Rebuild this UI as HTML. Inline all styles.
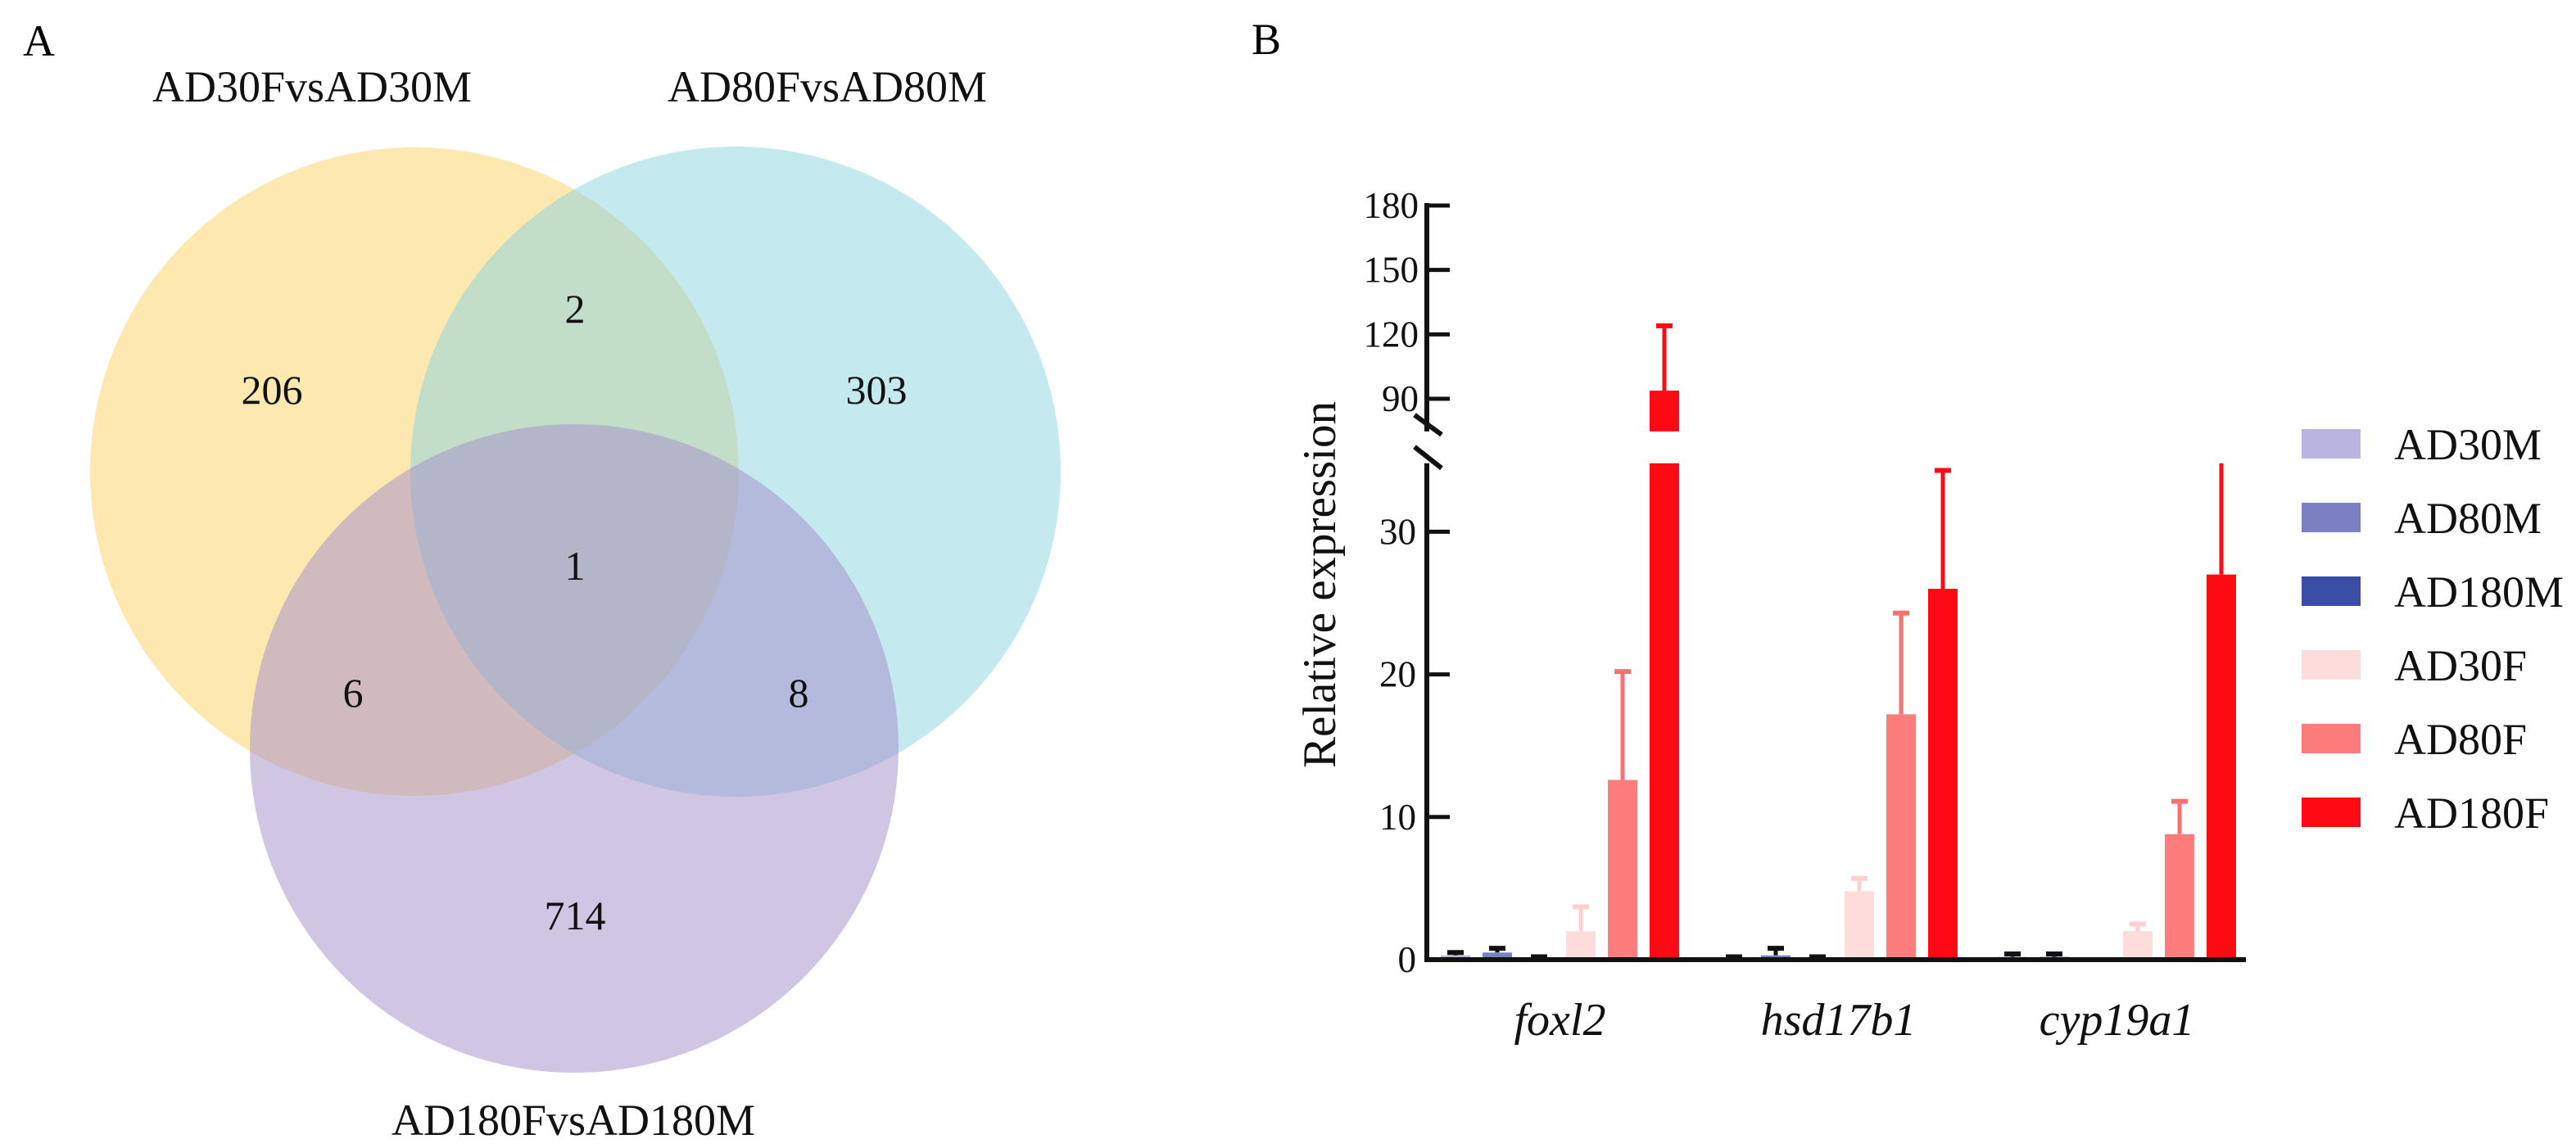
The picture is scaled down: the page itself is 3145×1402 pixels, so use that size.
<!DOCTYPE html>
<html><head><meta charset="utf-8"><style>
html,body{margin:0;padding:0;background:#fff;width:3145px;height:1402px;overflow:hidden}
svg{display:block;font-family:"Liberation Serif",serif}
</style></head><body>
<svg id="fig" width="3145" height="1402" viewBox="0 0 3145 1402">
<g>
<text x="28" y="68" font-size="54">A</text>
<circle cx="506" cy="576" r="396" fill="rgb(251,211,97)" fill-opacity="0.5"/>
<circle cx="898" cy="576" r="397" fill="rgb(137,211,223)" fill-opacity="0.5"/>
<circle cx="701" cy="914" r="396" fill="rgb(163,139,201)" fill-opacity="0.5"/>
<g font-size="54" text-anchor="middle" fill="#111">
<text x="381" y="124">AD30FvsAD30M</text>
<text x="1010" y="124">AD80FvsAD80M</text>
<text x="700" y="1386">AD180FvsAD180M</text>
</g>
<g font-size="50" text-anchor="middle" fill="#111">
<text x="332" y="493">206</text>
<text x="702" y="394">2</text>
<text x="1070" y="493">303</text>
<text x="702" y="708">1</text>
<text x="431" y="863">6</text>
<text x="975" y="863">8</text>
<text x="702" y="1135">714</text>
</g>
</g>
<g id="chart">
<text x="1528" y="66" font-size="54">B</text>
</g>
</svg>
<script>
const genes = ["foxl2","hsd17b1","cyp19a1"];
const groups = ["AD30M","AD80M","AD180M","AD30F","AD80F","AD180F"];
const means = [[0.3,0.5,0.1,2.0,12.6,93.8],[0.1,0.3,0.1,4.8,17.2,26.0],[0.2,0.2,0,2.0,8.8,27.0]];
const errTops = [[0.5,0.8,0.2,3.7,20.2,124],[0.2,0.8,0.2,5.7,24.3,34.3],[0.4,0.4,0,2.5,11.1,36]];
const lowTicks = [0,10,20,30];
const highTicks = [90,120,150,180];
const colors = ["#b8b6e0","#7a80c2","#3a4ea6","#fddcdc","#fd7d7d","#fe0a14"];
const errColors = ["#111","#111","#111","#fdd0d0","#fd7070","#fe0a14"];

const NS="http://www.w3.org/2000/svg";
const chart=document.getElementById('chart');
const AX=1742, BASE=1172;
const LOW_MAX=34.8, LOW_TOP=BASE-34.8*17.42, HIGH_MIN=74.8, HIGH_TOP=251, HIGH_MAX=180;
const UPPX=(487-251)/90;
function yLow(v){return BASE-Math.min(v,LOW_MAX)*17.42;}
function yHigh(v){return 251+(HIGH_MAX-v)*UPPX;}
const HIGH_BOT=yHigh(HIGH_MIN);
function yOf(v){return v<=LOW_MAX?yLow(v):(v<HIGH_MIN?LOW_TOP:yHigh(v));}
function xOf(g,s){return 1777+g*340+s*51;}
const BW=36;
function mk(tag,attrs){const e=document.createElementNS(NS,tag);for(const k in attrs)e.setAttribute(k,attrs[k]);chart.appendChild(e);return e;}

for(let g=0;g<genes.length;g++){
  for(let s=0;s<groups.length;s++){
    const v=means[g][s], cx=xOf(g,s);
    const top=yOf(errTops[g][s]);
    const barTop=yOf(v);
    const eline=mk('line',{x1:cx,x2:cx,y1:barTop,y2:top,stroke:errColors[s],'stroke-width':5});
    
    
    if(errTops[g][s]<=LOW_MAX || errTops[g][s]>=HIGH_MIN){
      const cap=mk('line',{x1:cx-10,x2:cx+10,y1:top,y2:top,stroke:errColors[s],'stroke-width':6});
      
      
    }
    if(v>LOW_MAX){
      const r1=mk('rect',{x:cx-BW/2,y:LOW_TOP,width:BW,height:BASE-LOW_TOP,fill:colors[s]});
      
      
      const r2=mk('rect',{x:cx-BW/2,y:yHigh(v),width:BW,height:HIGH_BOT-yHigh(v),fill:colors[s]});
      
      
    } else {
      const r=mk('rect',{x:cx-BW/2,y:barTop,width:BW,height:BASE-barTop,fill:colors[s]});
      
      
    }
  }
  const t=mk('text',{x:xOf(g,2.5),y:1264,'font-size':56,'font-style':'italic','text-anchor':'middle',fill:'#111'});
  t.textContent=genes[g];
  
  
}
const xa=mk('line',{x1:AX-3,x2:2742,y1:BASE,y2:BASE,stroke:'#111','stroke-width':6});


const ya1=mk('line',{x1:AX,x2:AX,y1:BASE+3,y2:LOW_TOP,stroke:'#111','stroke-width':6});


const ya2=mk('line',{x1:AX,x2:AX,y1:HIGH_BOT,y2:HIGH_TOP-3,stroke:'#111','stroke-width':6});


const b1=mk('line',{x1:AX-15,x2:AX+18,y1:HIGH_BOT-20,y2:HIGH_BOT+4,stroke:'#111','stroke-width':6});


const b2=mk('line',{x1:AX-15,x2:AX+18,y1:LOW_TOP-20,y2:LOW_TOP+6,stroke:'#111','stroke-width':6});


for(const v of lowTicks){
  const y=yLow(v);
  const tk=mk('line',{x1:AX,x2:AX+28,y1:y,y2:y,stroke:'#111','stroke-width':5});
  
  
  const tl=mk('text',{x:AX-13,y:y+15,'font-size':45,'text-anchor':'end',fill:'#111'});
  tl.textContent=v;
  
  
}
for(const v of highTicks){
  const y=yHigh(v);
  const tk=mk('line',{x1:AX,x2:AX+28,y1:y,y2:y,stroke:'#111','stroke-width':5});
  
  
  const tl=mk('text',{x:AX-10,y:y+15,'font-size':45,'text-anchor':'end',fill:'#111'});
  tl.textContent=v;
  
  
}
const yt=mk('text',{x:0,y:0,'font-size':57,'text-anchor':'middle',fill:'#111',transform:'translate(1630,714) rotate(-90)'});
yt.textContent='Relative expression';


for(let s=0;s<groups.length;s++){
  const cy=542+s*90;
  const sw=mk('rect',{x:2810,y:cy-18,width:72,height:36,fill:colors[s]});
  
  
  const lt=mk('text',{x:2923,y:cy+19,'font-size':54,fill:'#111'});
  lt.textContent=groups[s];
  
  
}
</script>
</body></html>
